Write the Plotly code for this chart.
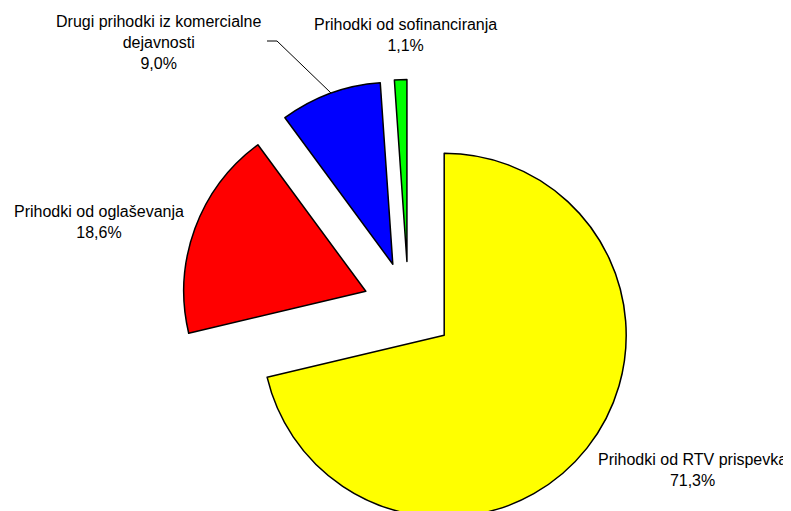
import plotly.graph_objects as go

labels = ["Prihodki od RTV prispevka", "Prihodki od oglaševanja",
          "Drugi prihodki iz komercialne<br>dejavnosti", "Prihodki od sofinanciranja"]
values = [71.3, 18.6, 9.0, 1.1]
colors = ["#FFFF00", "#FF0000", "#0000FF", "#00FF00"]

W, H = 783, 540
OFF = 8  # page body margin

def px(x, y):
    return (x - OFF) / W, 1 - (y - OFF) / H

fig = go.Figure()
fig.add_trace(go.Pie(
    labels=labels, values=values, sort=False, direction="clockwise", rotation=0,
    pull=[0.25] * len(values), textinfo="none", hoverinfo="label+percent",
    marker=dict(colors=colors, line=dict(color="#000000", width=1.5)),
    domain=dict(x=[0.2114, 0.8116], y=[0.025, 0.8676]),
    showlegend=False,
))

label_pos = [(692, 470), (99, 222), (159, 43), (405, 35)]
for lab, v, (x, y) in zip(labels, values, label_pos):
    ax, ay = px(x, y)
    fig.add_annotation(x=ax, y=ay, xref="paper", yref="paper", showarrow=False,
                       text=f"{lab}<br>{v:.1f}%".replace(".", ","),
                       xanchor="center", yanchor="middle", align="center",
                       font=dict(size=16, color="#000000", family="Arial, Liberation Sans"))

p1, p2, p3 = px(267, 41), px(277, 41), px(331, 93)
fig.add_shape(type="path", xref="paper", yref="paper",
              path=f"M {p1[0]} {p1[1]} L {p2[0]} {p2[1]} L {p3[0]} {p3[1]}",
              line=dict(color="#000000", width=1))

fig.update_layout(width=W, height=H, margin=dict(l=0, r=0, t=0, b=0),
                  paper_bgcolor="#FFFFFF", plot_bgcolor="#FFFFFF")
fig.write_html("out.html")
